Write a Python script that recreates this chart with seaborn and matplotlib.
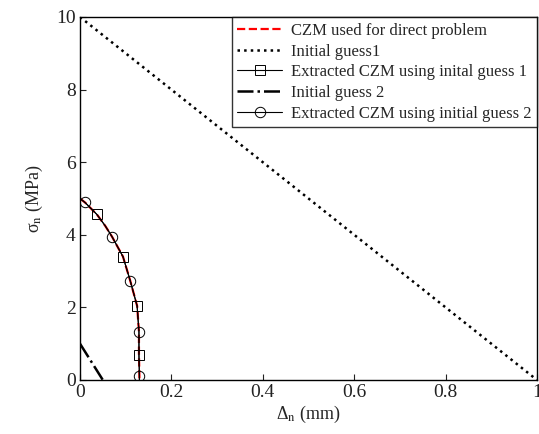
import numpy as np
import pandas as pd
import seaborn as sns
import matplotlib
matplotlib.use('Agg')
import matplotlib.pyplot as plt

sns.set_style('ticks', {'xtick.direction': 'in', 'ytick.direction': 'in'})
plt.rcParams['font.family'] = ['Liberation Serif', 'DejaVu Serif']
plt.rcParams['mathtext.fontset'] = 'stix'

# CZM curve (delta in mm, sigma in MPa)
czm_delta = [0.0, 0.011, 0.037, 0.055, 0.070, 0.094, 0.110, 0.125, 0.129, 0.129, 0.130, 0.130]
czm_sigma = [5.0, 4.89, 4.56, 4.25, 3.95, 3.40, 2.73, 2.04, 1.33, 0.69, 0.11, 0.0]
# marker positions on the extracted curves (indices into the curve)
sq_idx = [2, 5, 7, 9]
circ_idx = [1, 4, 6, 8, 10]

guess1_delta = [0.0, 1.0]
guess1_sigma = [10.0, 0.0]
guess2_delta = [0.0, 0.05]
guess2_sigma = [1.0, 0.0]

xticks = [0, 0.2, 0.4, 0.6, 0.8, 1]
xticklabels = ['0', '0.2', '0.4', '0.6', '0.8', '1']
yticks = [0, 2, 4, 6, 8, 10]

czm = pd.DataFrame({'d': czm_delta, 's': czm_sigma})

fig = plt.figure(figsize=(5.39, 4.34), dpi=100)
ax = fig.add_axes([80/539, 1-380/434, 457/539, 363/434])

sns.lineplot(data=czm, x='d', y='s', sort=False, estimator=None, ax=ax, color='red',
             linestyle='--', lw=1.6, label='CZM used for direct problem', zorder=2)
sns.lineplot(x=guess1_delta, y=guess1_sigma, estimator=None, ax=ax, color='black',
             linestyle=':', lw=1.8, label='Initial guess1', zorder=2)
sns.lineplot(data=czm, x='d', y='s', sort=False, estimator=None, ax=ax, color='black',
             lw=0.8, marker='s', markersize=7.5, markerfacecolor='none',
             markeredgecolor='black', markeredgewidth=0.7, markevery=sq_idx,
             label='Extracted CZM using inital guess 1', zorder=3)
sns.lineplot(x=guess2_delta, y=guess2_sigma, estimator=None, ax=ax, color='black',
             linestyle='-.', lw=1.8, label='Initial guess 2', zorder=2)
sns.lineplot(data=czm, x='d', y='s', sort=False, estimator=None, ax=ax, color='black',
             lw=0.8, marker='o', markersize=7.5, markerfacecolor='none',
             markeredgecolor='black', markeredgewidth=0.7, markevery=circ_idx,
             label='Extracted CZM using initial guess 2', zorder=3)

ax.set_xlim(0, 1)
ax.set_ylim(0, 10)
ax.set_xticks(xticks)
ax.set_xticklabels(xticklabels)
ax.set_yticks(yticks)
ax.tick_params(labelsize=14, length=4, width=0.8, pad=3, colors='#222222')
for sp in ax.spines.values():
    sp.set_visible(True)
    sp.set_linewidth(1.0)
    sp.set_color('black')

ax.set_xlabel('Δ$_\\mathrm{n}$ (mm)', fontsize=13, labelpad=2)
ax.set_ylabel('σ$_\\mathrm{n}$ (MPa)', fontsize=13, labelpad=8)

leg = ax.legend(loc='upper right', bbox_to_anchor=(1, 1), borderaxespad=0,
                fontsize=12, frameon=True, fancybox=False, edgecolor='black',
                handlelength=2.7, handletextpad=0.5, labelspacing=0.28,
                borderpad=0.35)
leg.get_frame().set_linewidth(1.0)

fig.savefig('out.png', dpi=100)
